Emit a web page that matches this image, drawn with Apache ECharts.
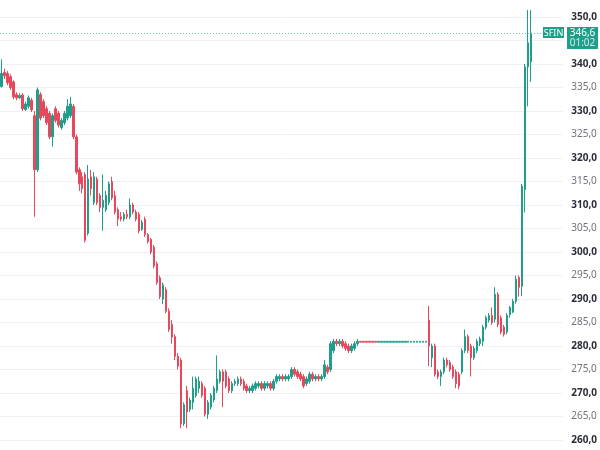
<!DOCTYPE html>
<html>
<head>
<meta charset="utf-8">
<script src="https://cdn.jsdelivr.net/npm/echarts@6/dist/echarts.min.js"></script>
<style>
    html, body { margin: 0; padding: 0; background: #fff; }
    #chart { width: 600px; height: 450px; }
</style>
</head>
<body>
<div id="chart"></div>
<script>
// each bar: [open, close, low, high]
var slideBars = [
    [335.2, 338, 335, 341], [338.2, 337.5, 336.8, 339], [338, 336, 335.5, 338.5], [337.3, 335, 334.5, 337.8],
    [336.2, 333, 332.5, 336.5], [333.5, 332.8, 332.3, 334], [332.8, 333.3, 332.5, 333.8], [333.4, 330.5, 330, 333.8],
    [330.3, 331.5, 330, 332], [331, 332.8, 330.5, 333.3], [332.3, 330.2, 329.8, 332.8], [329, 317.5, 307.5, 330],
    [317.5, 334.5, 317, 335], [333.5, 328.5, 328, 334], [332, 329, 328.5, 332.5], [330.5, 327.5, 327, 331],
    [329.5, 324.5, 324, 330], [324.5, 329, 322.4, 329.5], [330.5, 328, 327.5, 331], [329.5, 327, 326.5, 330],
    [326.5, 328, 326, 328.5], [327.5, 329.5, 327, 330], [328.5, 331, 328, 332.5], [329, 331.5, 328.5, 333],
    [331, 324.5, 324, 331.5], [324.5, 317, 316.5, 325], [317.5, 314.5, 313, 318], [316, 313.5, 312.5, 317],
    [316.5, 302.5, 302, 317], [304, 315.5, 303.5, 318.5], [316, 313.5, 312, 317.5], [310.5, 316, 310, 317],
    [315.5, 310.5, 310, 316], [312, 309.5, 308.5, 312.5], [309.5, 311, 304.5, 316.5], [309, 312, 308.5, 313],
    [310.5, 314.5, 310, 315], [315, 311.5, 311, 316], [312, 308.5, 308, 313], [309, 307, 305.5, 309.5],
    [307.5, 307, 306.5, 308.5], [307, 308, 306.5, 308.5], [308, 307.5, 307, 309], [307.5, 310, 307, 311.4],
    [310, 308.5, 308, 310.5], [308.5, 307, 306.5, 309], [308, 304.5, 304, 308.5], [304.8, 306.3, 304.5, 306.8],
    [307, 303.7, 303.2, 307.5], [303.7, 302.2, 301.8, 304], [302.7, 300, 299.5, 303], [301, 297, 296.5, 301.5],
    [297.5, 293.5, 293, 298], [294.5, 290.5, 290, 295], [290, 293, 288.9, 293.5], [292, 287.4, 287, 292.5],
    [287.4, 283.5, 283, 288], [284.6, 281.9, 280.5, 285.5], [282, 277.8, 277, 282.5], [277.8, 275.7, 275, 278.5],
    [277, 263.4, 262.5, 277.5]
];
var bottomBars = [
    [263.5, 267.5, 263, 268], [270.5, 266, 262.5, 271.5], [266.5, 268.5, 266, 269], [268, 271, 266.5, 273.5],
    [269.5, 273, 269, 273.5], [271, 272.5, 270, 273.5], [272, 269.5, 269, 272.5], [271, 265.5, 265, 271.5],
    [265.5, 268, 264.5, 268.5], [267, 269.5, 266.5, 270], [268.5, 271, 268, 271.5], [270.5, 273, 270, 278],
    [272.5, 274.5, 272, 275], [274.5, 272.5, 267, 275], [274.5, 271.5, 271, 275], [273, 270.5, 270, 273.5],
    [270.5, 272, 270, 272.5], [272, 272.5, 271.5, 273], [272, 273, 271.5, 273.5], [273, 272, 271.5, 273.5],
    [272.5, 271, 270.5, 273], [271.5, 270.5, 270, 272], [270.5, 271, 270, 271.5], [270.5, 271.5, 270, 272],
    [271, 272, 270.5, 272.5], [271.5, 272, 271, 272.5], [272, 271, 270.5, 272.5], [271, 272, 270.5, 272.5],
    [271.5, 272, 271, 272.5], [272, 271, 270.5, 272.5], [271, 272.5, 270.5, 273], [272.5, 273.5, 272, 274],
    [273, 273.5, 272.5, 274], [273.5, 273, 272.5, 274], [273, 273.5, 272.5, 274], [273, 273.5, 272.5, 274],
    [273.5, 275, 273, 275.5], [275, 274, 273.5, 275.5], [274.5, 273.5, 273, 275], [274, 273, 272.5, 274.5],
    [273.5, 271.5, 271, 274], [272, 273, 271.5, 273.5], [272.5, 274, 272, 274.5], [274, 273, 272.5, 274.5],
    [273, 273.5, 272.5, 274], [273.5, 273, 272.5, 274], [273, 273.5, 272.5, 274], [273.5, 276, 273, 277],
    [275.5, 274.5, 274, 276], [275, 280.5, 274.5, 281], [279, 281, 278.5, 281.5], [281, 280.5, 280, 281.5],
    [280.5, 281, 280, 281.5], [281, 280, 279.5, 281.5], [280.5, 279.5, 279, 281], [280, 279, 278.5, 280.5],
    [279, 280, 278.5, 280.5], [279.5, 280.5, 279, 281], [280.5, 281, 280, 281.5]
];
var plateauBars = [
    [281, 280.8, 280.8, 281], [281, 280.8, 280.8, 281], [281, 280.8, 280.8, 281], [281, 280.8, 280.8, 281],
    [281, 280.8, 280.8, 281], [281, 280.8, 280.8, 281], [280.8, 281, 280.8, 281], [280.8, 281, 280.8, 281],
    [280.8, 281, 280.8, 281], [280.8, 281, 280.8, 281], [280.8, 281, 280.8, 281], [280.8, 281, 280.8, 281],
    [280.8, 281, 280.8, 281], [280.8, 281, 280.8, 281], [280.8, 281, 280.8, 281], [280.8, 281, 280.8, 281],
    [280.8, 281, 280.8, 281], [280.8, 281, 280.8, 281], [280.8, 281, 280.8, 281], [280.8, 281, 280.8, 281],
    [280.8, 281, 280.8, 281], [280.8, 281, 280.8, 281], [280.8, 281, 280.8, 281]
];
var rallyBars = [
    [285.5, 280, 275.7, 288.5], [277.5, 280, 275.5, 280.5], [280, 274, 273.5, 280.5], [274.5, 273.5, 273, 275],
    [273.5, 274.5, 271.5, 275], [274.5, 277, 274, 277.5], [277, 276, 275.5, 277.5], [276.5, 275, 274.5, 277],
    [275.5, 273.5, 273, 276], [274.5, 272, 271, 275], [274, 271.5, 270.8, 274.5], [274.5, 279, 274, 279.5],
    [279, 282, 278.5, 283.5], [282, 279, 278.5, 282.5], [280, 277.5, 273.5, 280.5], [277.5, 279.5, 277, 280],
    [279, 281, 278.5, 281.5], [280.5, 281.5, 280, 282], [281, 284, 280, 284.5], [284, 286, 283.5, 286.5],
    [285.5, 286.5, 285, 287], [286.5, 285, 284.5, 288.2], [285.7, 291, 285, 292.5], [291, 284.6, 284, 291.5],
    [286, 283, 282.5, 286.5], [284, 282.5, 282, 284.5], [283, 286.5, 282.5, 287], [286.7, 288.2, 286, 288.5],
    [287.2, 289.5, 287, 290], [289.5, 294.2, 289, 295], [294.6, 292.5, 290.5, 295], [292.7, 314, 290.6, 314.5],
    [313.3, 339.4, 308.4, 340], [339.4, 344.5, 331, 351.5], [340.5, 346.6, 336.2, 351.5]
];
var ticker = 'SFIN';
var lastTime = '01:02';

var upColor = '#1f9e89',
    downColor = '#e8485b';

var chart = echarts.init(document.getElementById('chart'));
var bars = slideBars.concat(bottomBars, plateauBars, rallyBars);
var lastClose = bars[bars.length - 1][1];

// empty slots on the right, like the chart's right offset
var cats = [];
for (var i = 0; i < bars.length + 10; i++) {
    cats.push(String(i));
}

function fmt(v) {
    return v.toFixed(1).replace('.', ',');
}

chart.setOption({
    animation: false,
    grid: { left: 0, right: 37, top: 17, bottom: 10 },
    xAxis: {
        type: 'category',
        data: cats,
        boundaryGap: true,
        show: false
    },
    yAxis: {
        type: 'value',
        position: 'right',
        min: 260,
        max: 350,
        interval: 5,
        axisLine: { show: false },
        axisTick: { show: false },
        splitLine: { lineStyle: { color: '#eef0f3', width: 1 } },
        axisLabel: {
            margin: 9,
            align: 'left',
            formatter: function (v) {
                return v % 10 === 0 ? '{b|' + fmt(v) + '}' : '{n|' + fmt(v) + '}';
            },
            rich: {
                b: { fontFamily: 'Noto Sans', fontSize: 10, fontWeight: 'bold', color: '#2a2e39' },
                n: { fontFamily: 'Noto Sans', fontSize: 10, color: '#6f727c' }
            }
        }
    },
    series: [{
        type: 'candlestick',
        data: bars,
        barWidth: 2,
        clip: false,
        itemStyle: {
            color: upColor,
            color0: downColor,
            borderColor: upColor,
            borderColor0: downColor,
            borderWidth: 1
        },
        markLine: {
            silent: true,
            symbol: 'none',
            label: { show: false },
            lineStyle: { color: '#6cc3b5', type: [1, 2], width: 1 },
            data: [{ yAxis: lastClose }]
        }
    }]
});

// price tag on the right
var py = chart.convertToPixel({ yAxisIndex: 0 }, lastClose);
chart.setOption({
    graphic: [
        { type: 'rect', z: 10, shape: { x: 543, y: py - 6, width: 21, height: 11 }, style: { fill: upColor } },
        { type: 'text', z: 11, x: 553.5, y: py, style: { text: ticker, fill: '#fff', font: '9px "Noto Sans"', align: 'center', verticalAlign: 'middle' } },
        { type: 'rect', z: 10, shape: { x: 567, y: py - 6, width: 31, height: 22 }, style: { fill: upColor } },
        { type: 'text', z: 11, x: 582.5, y: py, style: { text: fmt(lastClose), fill: '#fff', font: '10px "Noto Sans"', align: 'center', verticalAlign: 'middle' } },
        { type: 'text', z: 11, x: 582.5, y: py + 10, style: { text: lastTime, fill: 'rgba(255,255,255,0.8)', font: '10px "Noto Sans"', align: 'center', verticalAlign: 'middle' } }
    ]
});
</script>
</body>
</html>
